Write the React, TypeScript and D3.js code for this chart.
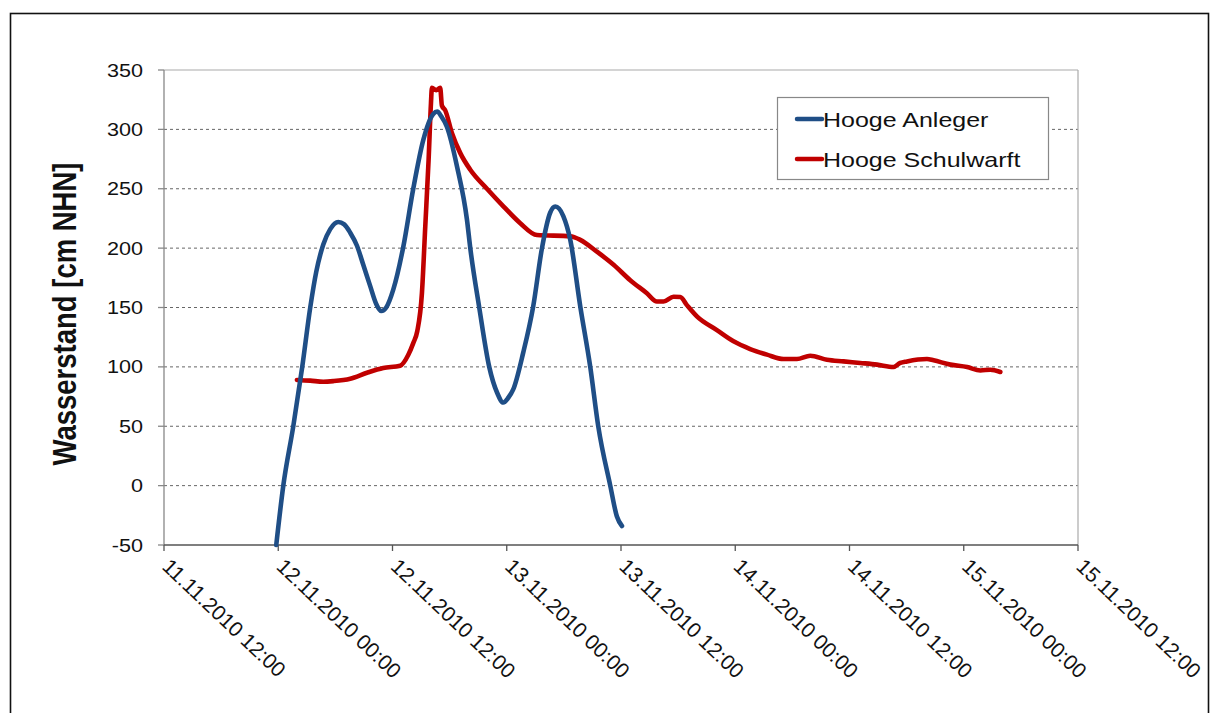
import React from "react";
import * as d3 from "d3";

// Hours after 12.11.2010 00:00
const anlegerHours = [-0.21, 0.53, 1.58, 2.52, 3.36, 3.99, 4.73, 5.46, 6.3, 6.93, 7.56, 8.27, 8.93, 9.66, 10.29, 10.82, 11.34, 12.08, 13.13, 14.18, 15.23, 16.28, 16.7, 17.12, 17.72, 18.77, 19.82, 20.17, 21.11, 22.16, 23.0, 23.63, 24.16, 24.68, 25.73, 26.78, 27.7, 28.57, 29.1, 29.94, 30.67, 31.72, 32.77, 33.61, 34.87, 35.57, 36.1];
const anlegerValues = [-50, 0, 50, 100, 150, 180, 203, 216, 222, 220, 213, 202, 186, 168, 153, 147, 150, 165, 201, 250, 291, 313, 315, 311, 302, 269, 224, 200, 150, 100, 78, 70, 74, 81, 112, 151, 200, 230, 235, 227, 207, 151, 100, 50, 0, -26, -34];

const schulwarftHours = [1.96, 3.36, 4.73, 5.78, 7.56, 9.32, 11.03, 12.81, 13.65, 14.18, 14.6, 15.09, 15.44, 15.79, 16.04, 16.14, 16.59, 17.01, 17.19, 17.54, 18.24, 19.12, 20.17, 21.92, 23.67, 25.42, 27.17, 30.67, 31.72, 33.47, 35.22, 36.97, 38.72, 39.77, 40.47, 41.52, 42.22, 42.92, 43.97, 46.07, 47.82, 49.57, 51.33, 53.07, 54.48, 55.88, 57.63, 59.38, 61.13, 62.89, 64.63, 65.33, 66.04, 68.14, 68.83, 70.6, 72.35, 73.75, 74.79, 75.84];
const schulwarftValues = [89, 88.4, 87.5, 88, 90, 95, 99, 101, 110, 120, 130, 162, 218, 274, 322, 335, 333, 335, 320, 316, 297, 280, 266, 250, 235, 221, 211, 210, 207, 197, 186, 173, 162, 155, 155, 159, 158.8, 152, 142.5, 131, 121.5, 115, 110.3, 106.6, 106.6, 109.4, 106, 104.6, 103.3, 101.9, 99.9, 103.3, 104.6, 106.6, 105.5, 101.9, 99.9, 97, 97.6, 95.7];

const seriesNames = ["Hooge Anleger", "Hooge Schulwarft"];
const seriesColors = ["#1F4E86", "#C00000"];
const yTicks = [-50, 0, 50, 100, 150, 200, 250, 300, 350];
const yTitle = "Wasserstand [cm NHN]";

const base = new Date(2010, 10, 12, 0, 0);
const toDate = (h: number) => new Date(base.getTime() + h * 3600 * 1000);

export default function App() {
  const left = 164, right = 1078, top = 70, bottom = 545;
  const x = d3.scaleTime().domain([new Date(2010, 10, 11, 12), new Date(2010, 10, 15, 12)]).range([left, right]);
  const y = d3.scaleLinear().domain([-50, 350]).range([bottom, top]);
  const xTicks = x.ticks(d3.timeHour.every(12) as any);
  const fmt = d3.timeFormat("%d.%m.%Y %H:%M");

  const line = d3.line<[number, number]>()
    .x(d => x(toDate(d[0])))
    .y(d => y(d[1]))
    .curve(d3.curveMonotoneX);

  const sA = anlegerHours.map((h, i) => [h, anlegerValues[i]] as [number, number]);
  const sS = schulwarftHours.map((h, i) => [h, schulwarftValues[i]] as [number, number]);

  const font = "'Liberation Sans', Arial, sans-serif";

  return (
    <svg width={1210} height={713} style={{ position: "absolute", left: 0, top: 0, background: "#fff" }} fontFamily={font}>
      <rect x={0} y={0} width={1210} height={713} fill="#fff" />
      <rect x={10.5} y={13.5} width={1198} height={710} fill="none" stroke="#111" strokeWidth={1.6} />
      {yTicks.filter(t => t > -50 && t < 350).map(t => (
        <line key={t} x1={left} x2={right} y1={y(t)} y2={y(t)} stroke="#666" strokeDasharray="3,3" strokeWidth={1} />
      ))}
      <line x1={left} x2={right} y1={y(350)} y2={y(350)} stroke="#aaa" strokeWidth={1.2} />
      <line x1={right} x2={right} y1={top} y2={bottom} stroke="#aaa" strokeWidth={1.2} />
      <line x1={left} x2={left} y1={top} y2={bottom} stroke="#888" strokeWidth={1.3} />
      {yTicks.map(t => (
        <g key={t}>
          <line x1={left - 6} x2={left} y1={y(t)} y2={y(t)} stroke="#888" strokeWidth={1.3} />
          <text transform={`translate(143,${y(t) + 6.5}) scale(1.2,1)`} textAnchor="end" fontSize={18} fill="#111">{t}</text>
        </g>
      ))}
      <line x1={left} x2={right} y1={bottom} y2={bottom} stroke="#555" strokeWidth={1.3} />
      {xTicks.map((t, i) => (
        <g key={i}>
          <line x1={x(t)} x2={x(t)} y1={bottom} y2={bottom + 6} stroke="#555" strokeWidth={1.3} />
          <text transform={`translate(${x(t) - 3},568) rotate(43.5)`} fontSize={21} fill="#111">{fmt(t)}</text>
        </g>
      ))}
      <text transform={`translate(76,${314}) scale(1.2,1) rotate(-90)`} textAnchor="middle" fontSize={27.5} fontWeight="bold" fill="#111">{yTitle}</text>
      <path d={line(sS) || ""} fill="none" stroke={seriesColors[1]} strokeWidth={4.6} strokeLinejoin="round" strokeLinecap="round" />
      <path d={line(sA) || ""} fill="none" stroke={seriesColors[0]} strokeWidth={4.6} strokeLinejoin="round" strokeLinecap="round" />
      <rect x={777.5} y={97.5} width={271} height={82} fill="#fff" stroke="#888" strokeWidth={1.2} />
      {seriesNames.map((n, i) => (
        <g key={n}>
          <line x1={797} x2={822} y1={119 + i * 40} y2={119 + i * 40} stroke={seriesColors[i]} strokeWidth={4.5} strokeLinecap="round" />
          <text transform={`translate(823,${126.5 + i * 40}) scale(1.22,1)`} fontSize={20.5} fill="#111">{n}</text>
        </g>
      ))}
    </svg>
  );
}
